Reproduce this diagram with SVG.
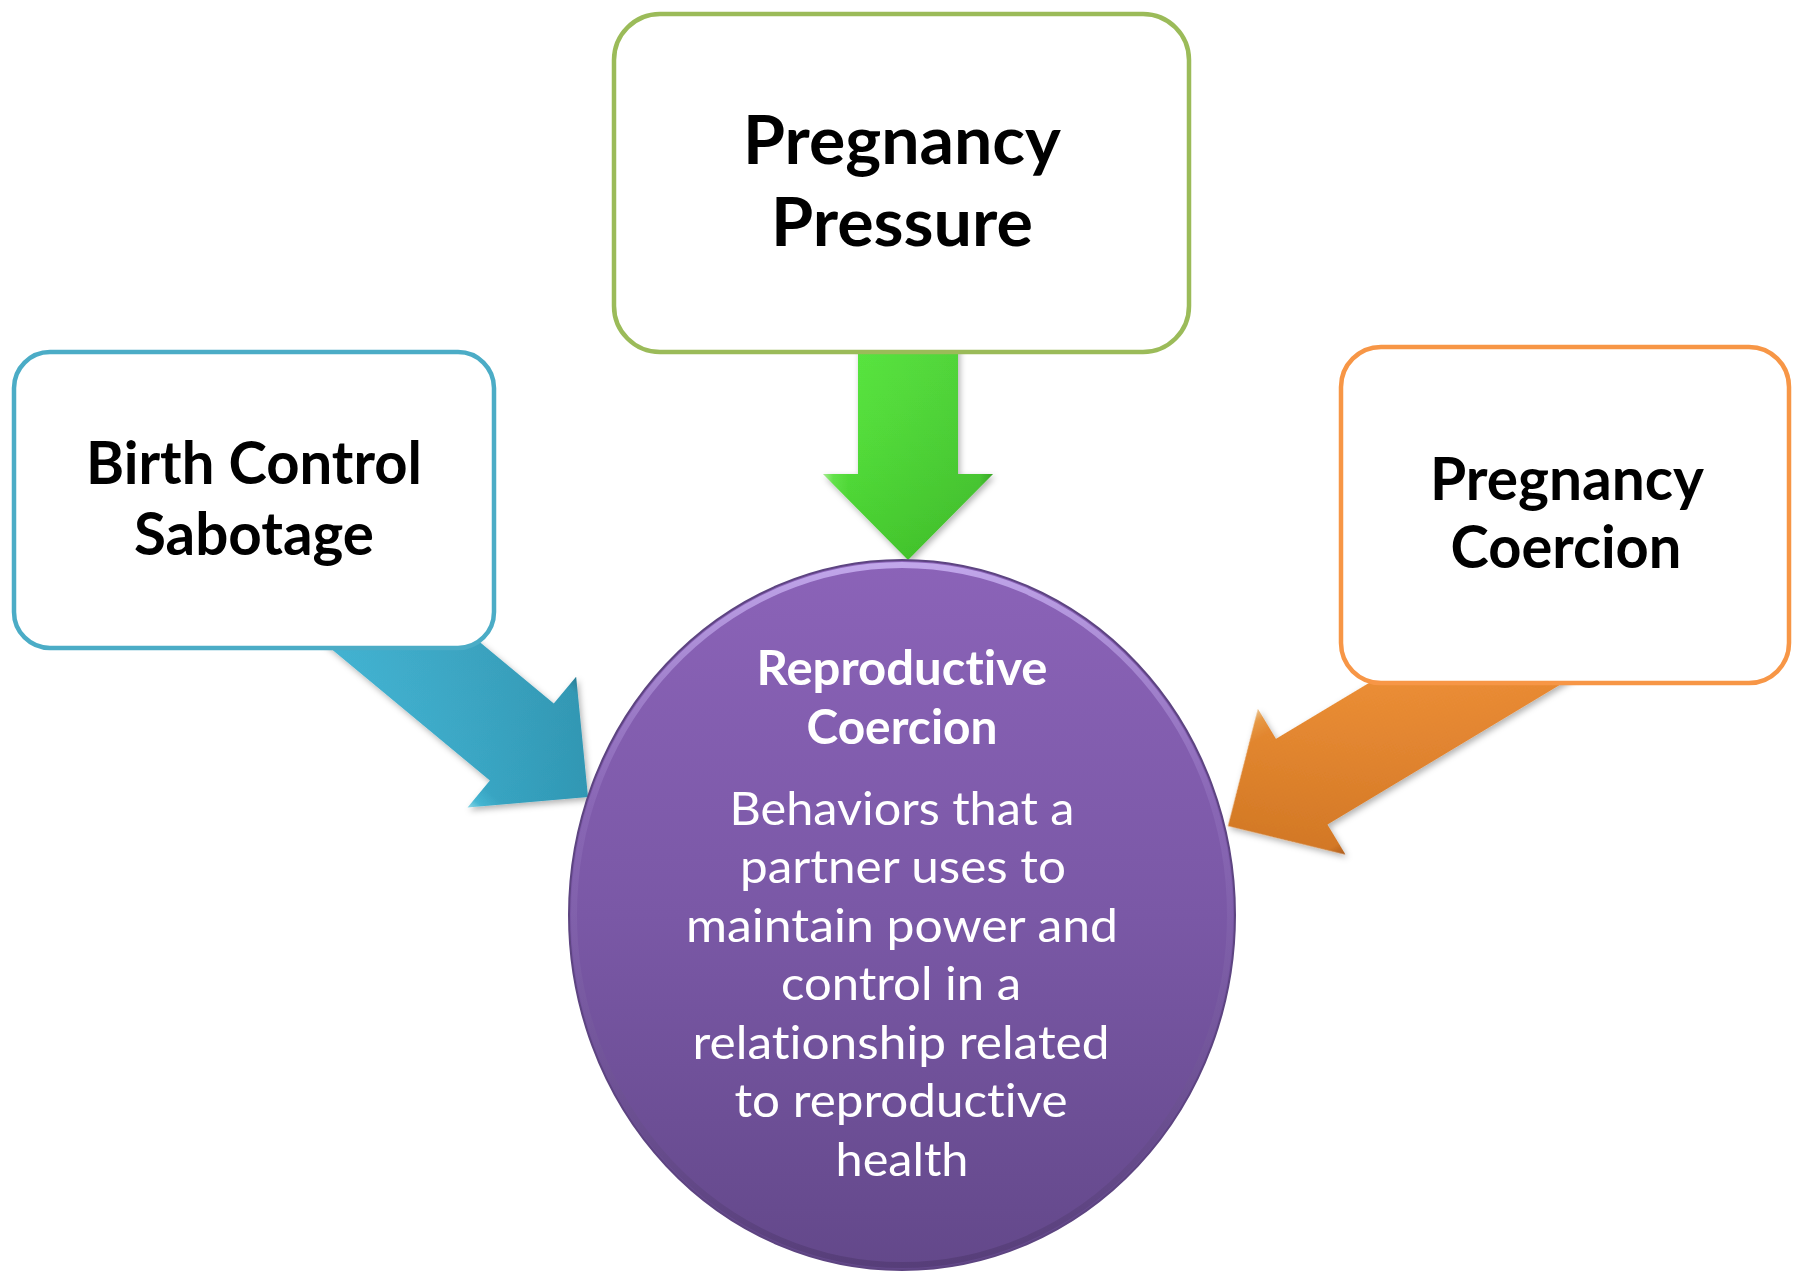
<svg xmlns="http://www.w3.org/2000/svg" width="1793" height="1272" viewBox="0 0 1793 1272">
  <defs>
    <style>
      text{font-variant-ligatures:none;font-feature-settings:"liga" 0,"clig" 0,"dlig" 0,"calt" 0}
      .box{fill:#ffffff;stroke-width:4.5}
      .lbl{font-family:Lato,"Liberation Sans",sans-serif;font-weight:700;fill:#000000;text-anchor:middle}
      .hubT{font-family:Lato,"Liberation Sans",sans-serif;font-weight:700;fill:#ffffff;text-anchor:middle;font-size:47px}
      .hubB{font-family:Lato,"Liberation Sans",sans-serif;font-weight:400;fill:#ffffff;text-anchor:middle;font-size:47px}
      .shade{fill:url(#gShade)}
    </style>
    <!-- bevelled fills across the arrow width, light edge on local +y side -->
    <linearGradient id="gBlue" x1="0" y1="0" x2="0" y2="1">
      <stop offset="0" stop-color="#25809a"/>
      <stop offset="0.08" stop-color="#32a2c1"/>
      <stop offset="0.85" stop-color="#38b0d1"/>
      <stop offset="0.94" stop-color="#46c3e2"/>
      <stop offset="1" stop-color="#9ae9f8"/>
    </linearGradient>
    <linearGradient id="gGreen" x1="0" y1="0" x2="0" y2="1">
      <stop offset="0" stop-color="#36ad22"/>
      <stop offset="0.08" stop-color="#45d02d"/>
      <stop offset="0.85" stop-color="#4fe534"/>
      <stop offset="0.94" stop-color="#62ef47"/>
      <stop offset="1" stop-color="#b0f899"/>
    </linearGradient>
    <linearGradient id="gOrange" x1="0" y1="0" x2="0" y2="1">
      <stop offset="0" stop-color="#b9601a"/>
      <stop offset="0.08" stop-color="#e58025"/>
      <stop offset="0.85" stop-color="#f6902f"/>
      <stop offset="0.94" stop-color="#faa346"/>
      <stop offset="1" stop-color="#fdd29a"/>
    </linearGradient>
    <!-- darkens each arrow toward its tip -->
    <linearGradient id="gShade" x1="0" y1="0" x2="1" y2="0">
      <stop offset="0" stop-color="#ffffff" stop-opacity="0.06"/>
      <stop offset="1" stop-color="#000000" stop-opacity="0.11"/>
    </linearGradient>
    <linearGradient id="gHub" x1="0" y1="0" x2="0" y2="1">
      <stop offset="0" stop-color="#8b63b8"/>
      <stop offset="0.5" stop-color="#7a58a6"/>
      <stop offset="1" stop-color="#63488a"/>
    </linearGradient>
    <linearGradient id="gRim" x1="0" y1="0" x2="0" y2="1">
      <stop offset="0" stop-color="#c7aef0" stop-opacity="0.9"/>
      <stop offset="0.35" stop-color="#a487cf" stop-opacity="0.25"/>
      <stop offset="1" stop-color="#4a3468" stop-opacity="0.5"/>
    </linearGradient>
    <filter id="shadow" x="-20%" y="-20%" width="140%" height="140%">
      <feDropShadow dx="2" dy="3" stdDeviation="3" flood-color="#000000" flood-opacity="0.3"/>
    </filter>
    <path id="arrowLong" d="M0 0 L-86 -85 L-86 -50 L-400 -50 L-400 50 L-86 50 L-86 85 Z"/>
    <path id="arrowMid" d="M0 0 L-86 -85 L-86 -50 L-330 -50 L-330 50 L-86 50 L-86 85 Z"/>
    <path id="arrowShort" d="M0 0 L-86 -85 L-86 -50 L-230 -50 L-230 50 L-86 50 L-86 85 Z"/>
  </defs>

  <!-- connectors: block arrows pointing into the hub -->
  <g id="connectors" filter="url(#shadow)">
    <g id="arrow-left" transform="translate(588,797) rotate(39.7)">
      <use href="#arrowMid" fill="url(#gBlue)"/>
      <use href="#arrowMid" class="shade"/>
    </g>
    <g id="arrow-top" transform="translate(908,560) rotate(90)">
      <use href="#arrowShort" fill="url(#gGreen)"/>
      <use href="#arrowShort" class="shade"/>
    </g>
    <g id="arrow-right" transform="translate(1228,826) rotate(149)">
      <use href="#arrowLong" fill="url(#gOrange)"/>
      <use href="#arrowLong" class="shade"/>
    </g>
  </g>

  <!-- outer nodes -->
  <g id="node-birth-control">
    <rect class="box" x="14" y="352" width="480" height="296" rx="36" stroke="#4bacc6"/>
    <text class="lbl" font-size="60" x="254" y="484" textLength="336" lengthAdjust="spacingAndGlyphs">Birth Control</text>
    <text class="lbl" font-size="60" x="254" y="555" textLength="240" lengthAdjust="spacingAndGlyphs">Sabotage</text>
  </g>

  <g id="node-pregnancy-pressure">
    <rect class="box" x="614" y="14" width="575" height="338" rx="46" stroke="#9bbb59"/>
    <text class="lbl" font-size="66" x="902" y="164" textLength="318" lengthAdjust="spacingAndGlyphs">Pregnancy</text>
    <text class="lbl" font-size="66" x="902" y="246" textLength="262" lengthAdjust="spacingAndGlyphs">Pressure</text>
  </g>

  <g id="node-pregnancy-coercion">
    <rect class="box" x="1341" y="347" width="448" height="336" rx="40" stroke="#f79646"/>
    <text class="lbl" font-size="60" x="1567" y="500" textLength="274" lengthAdjust="spacingAndGlyphs">Pregnancy</text>
    <text class="lbl" font-size="60" x="1566" y="568" textLength="231" lengthAdjust="spacingAndGlyphs">Coercion</text>
  </g>

  <!-- central hub -->
  <g id="node-reproductive-coercion">
    <ellipse cx="902" cy="915" rx="333" ry="355" fill="url(#gHub)" stroke="#5d4481" stroke-width="2"/>
    <ellipse cx="902" cy="915" rx="328" ry="350" fill="none" stroke="url(#gRim)" stroke-width="6"/>
    <text class="hubT" x="902" y="685" textLength="291" lengthAdjust="spacingAndGlyphs">Reproductive</text>
    <text class="hubT" x="902" y="744" textLength="191" lengthAdjust="spacingAndGlyphs">Coercion</text>
    <text class="hubB" x="902" y="825" textLength="345" lengthAdjust="spacingAndGlyphs">Behaviors that a</text>
    <text class="hubB" x="903" y="883" textLength="326" lengthAdjust="spacingAndGlyphs">partner uses to</text>
    <text class="hubB" x="902" y="942" textLength="432" lengthAdjust="spacingAndGlyphs">maintain power and</text>
    <text class="hubB" x="901" y="1000" textLength="240" lengthAdjust="spacingAndGlyphs">control in a</text>
    <text class="hubB" x="901" y="1059" textLength="417" lengthAdjust="spacingAndGlyphs">relationship related</text>
    <text class="hubB" x="901" y="1117" textLength="333" lengthAdjust="spacingAndGlyphs">to reproductive</text>
    <text class="hubB" x="902" y="1176" textLength="133" lengthAdjust="spacingAndGlyphs">health</text>
  </g>
</svg>
